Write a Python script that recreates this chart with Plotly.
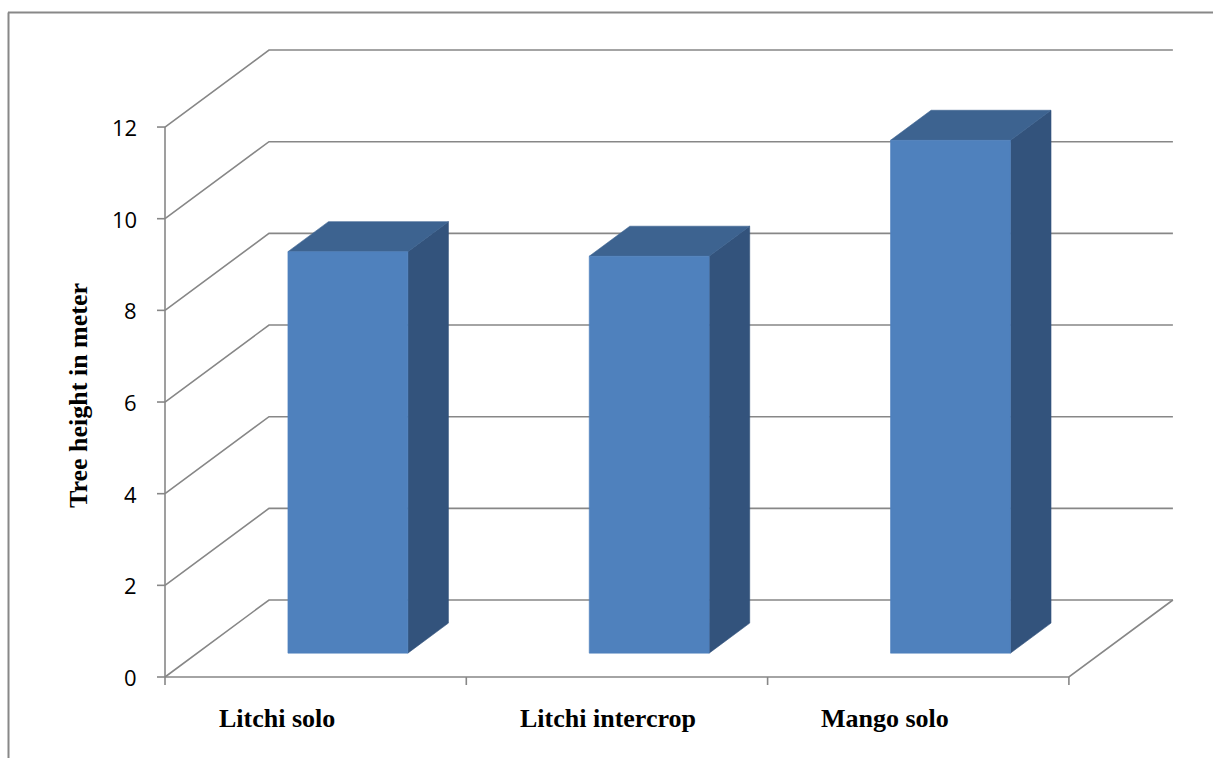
import plotly.graph_objects as go

# ---------------- data ----------------
categories = ["Litchi solo", "Litchi intercrop", "Mango solo"]
heights = [8.76, 8.66, 11.19]
y_ticks = [0, 2, 4, 6, 8, 10, 12]
y_title = "Tree height in meter"

# ---------------- layout constants ----------------
W, H = 1213, 758
AX_LEFT_PX = 165      # pixel x of the front value axis
CAT_PX = 301.3        # pixels per category
ZERO_PX = 677         # pixel y of value 0 on the front
UNIT_PX = 45.83       # pixels per value unit
DEPTH_PX = (104, 77)  # oblique depth offset (right, up)
DX = DEPTH_PX[0] / CAT_PX
DV = DEPTH_PX[1] / UNIT_PX
BAR_HALF = 0.199
BAR_D0, BAR_D1 = 0.31, 0.70

GRID = "#878787"
FRONT = "#4F81BD"
TOP = "#3D6390"
SIDE = "#33537C"


def px_x(n):
    return n / CAT_PX


def px_y(n):
    return n / UNIT_PX


fig = go.Figure()


def line(xs, ys, color=GRID, width=1.6):
    fig.add_trace(go.Scatter(x=xs, y=ys, mode="lines",
                             line=dict(color=color, width=width),
                             hoverinfo="skip", showlegend=False))


def poly(xs, ys, color):
    fig.add_trace(go.Scatter(x=xs + [xs[0]], y=ys + [ys[0]], mode="lines",
                             fill="toself", fillcolor=color,
                             line=dict(color=color, width=0.6),
                             hoverinfo="skip", showlegend=False))


ncat = len(categories)
vmax = max(y_ticks)

# side wall + back wall gridlines
for t in y_ticks:
    line([0, DX, ncat + DX], [t, t + DV, t + DV])
# floor outline
line([0, ncat, ncat + DX], [0, 0, DV])

# bars (oblique 3D boxes)
for i, h in enumerate(heights):
    c = i + 0.5
    xl0, xr0 = c - BAR_HALF + BAR_D0 * DX, c + BAR_HALF + BAR_D0 * DX
    xl1, xr1 = c - BAR_HALF + BAR_D1 * DX, c + BAR_HALF + BAR_D1 * DX
    b0, b1 = BAR_D0 * DV, BAR_D1 * DV
    poly([xr0, xr1, xr1, xr0], [b0, b1, h + b1, h + b0], SIDE)
    poly([xl0, xr0, xr1, xl1], [h + b0, h + b0, h + b1, h + b1], TOP)
    poly([xl0, xr0, xr0, xl0], [b0, b0, h + b0, h + b0], FRONT)

# front value axis with ticks
line([0, 0], [0, vmax])
for t in y_ticks:
    line([-px_x(8), 0], [t, t])
# category ticks
for k in range(ncat + 1):
    line([k, k], [0, -px_y(8)])

annotations = []
for t in y_ticks:
    annotations.append(dict(x=-px_x(26), y=t, text=str(t), showarrow=False,
                            xanchor="right", yanchor="middle",
                            font=dict(family="Open Sans", size=22, color="black")))
for i, cat in enumerate(categories):
    annotations.append(dict(x=i + 0.172, y=-px_y(41), text="<b>%s</b>" % cat,
                            showarrow=False, xanchor="left", yanchor="middle",
                            font=dict(family="Liberation Serif", size=26, color="black")))
annotations.append(dict(x=-px_x(AX_LEFT_PX - 78), y=px_y(ZERO_PX - 396),
                        text="<b>%s</b>" % y_title, textangle=-90, showarrow=False,
                        xanchor="center", yanchor="middle",
                        font=dict(family="Liberation Serif", size=26, color="black")))

shapes = [
    dict(type="line", xref="paper", yref="paper", x0=8 / W, x1=1, y0=1 - 12.5 / H, y1=1 - 12.5 / H,
         line=dict(color="#888888", width=2)),
    dict(type="line", xref="paper", yref="paper", x0=8.5 / W, x1=8.5 / W, y0=0, y1=1 - 12.5 / H,
         line=dict(color="#888888", width=2)),
]

fig.update_layout(
    width=W, height=H,
    margin=dict(l=0, r=0, t=0, b=0),
    paper_bgcolor="white", plot_bgcolor="white",
    showlegend=False,
    xaxis=dict(visible=False, range=[-AX_LEFT_PX / CAT_PX, (W - AX_LEFT_PX) / CAT_PX]),
    yaxis=dict(visible=False, range=[-(H - ZERO_PX) / UNIT_PX, ZERO_PX / UNIT_PX]),
    annotations=annotations,
    shapes=shapes,
)

fig.write_html("out.html")
